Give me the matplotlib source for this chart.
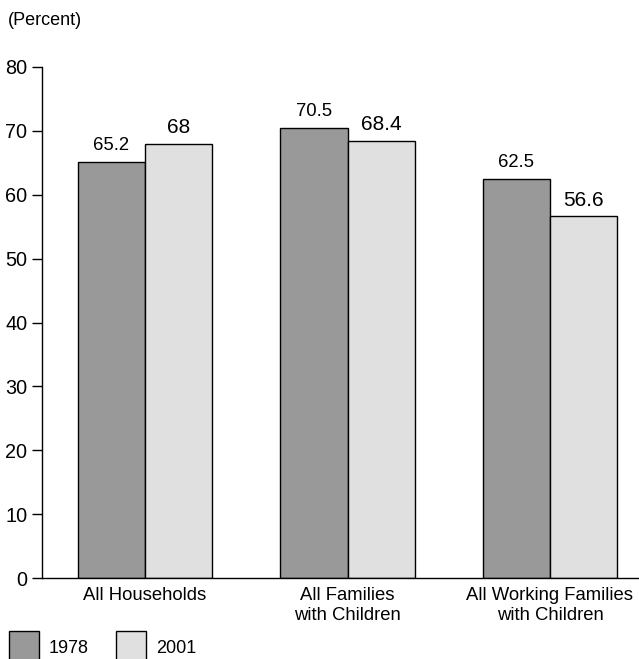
import matplotlib
matplotlib.use("Agg")
import matplotlib.pyplot as plt
import numpy as np
from matplotlib.patches import Rectangle

categories = ["All Households", "All Families\nwith Children", "All Working Families\nwith Children"]
series_names = ["1978", "2001"]
values_1978 = [65.2, 70.5, 62.5]
values_2001 = [68, 68.4, 56.6]
label_1978 = ["65.2", "70.5", "62.5"]
label_2001 = ["68", "68.4", "56.6"]
yticks = [0, 10, 20, 30, 40, 50, 60, 70, 80]

plt.rcParams['font.family'] = ['Liberation Sans', 'DejaVu Sans']

fig = plt.figure(figsize=(6.39, 6.59), dpi=100)
ax = fig.add_axes([42/639, 1-578/659, (639-42)/639, (578-67)/659])

x = np.arange(len(categories))
w = 0.331
c1, c2 = "#999999", "#e0e0e0"
ax.bar(x - w/2, values_1978, w, color=c1, edgecolor="black", linewidth=1)
ax.bar(x + w/2, values_2001, w, color=c2, edgecolor="black", linewidth=1)
for xi, v, t in zip(x, values_1978, label_1978):
    ax.text(xi - w/2, v + 1.8, t, ha="center", va="baseline", fontsize=13.3)
for xi, v, t in zip(x, values_2001, label_2001):
    ax.text(xi + w/2, v + 1.7, t, ha="center", va="baseline", fontsize=15)

ax.set_xlim((42-145)/202.5, (639-145)/202.5)
ax.set_ylim(0, 80)
ax.set_yticks(yticks)
ax.set_yticklabels([str(t) for t in yticks], fontsize=14.3)
ax.set_xticks(x)
ax.set_xticklabels(categories, fontsize=13.3, linespacing=1.25)
ax.tick_params(axis="x", length=0, pad=6.5)
ax.tick_params(axis="y", length=7.5, width=1, pad=3)
for s in ["top", "right"]:
    ax.spines[s].set_visible(False)
ax.spines["left"].set_linewidth(1)
ax.spines["bottom"].set_linewidth(1)

fig.text(8/639, 1-25/659, "(Percent)", fontsize=13, va="baseline", ha="left")

# legend
for i, (name, col) in enumerate(zip(series_names, [c1, c2])):
    x0 = [9, 116][i]
    fig.patches.append(Rectangle((x0/639, 1-665/659), 30/639, 34/659, transform=fig.transFigure,
                                 facecolor=col, edgecolor="black", linewidth=1))
    fig.text((x0+40)/639, 1-653/659, name, fontsize=13, va="baseline", ha="left")

fig.savefig("out.png", dpi=100)
